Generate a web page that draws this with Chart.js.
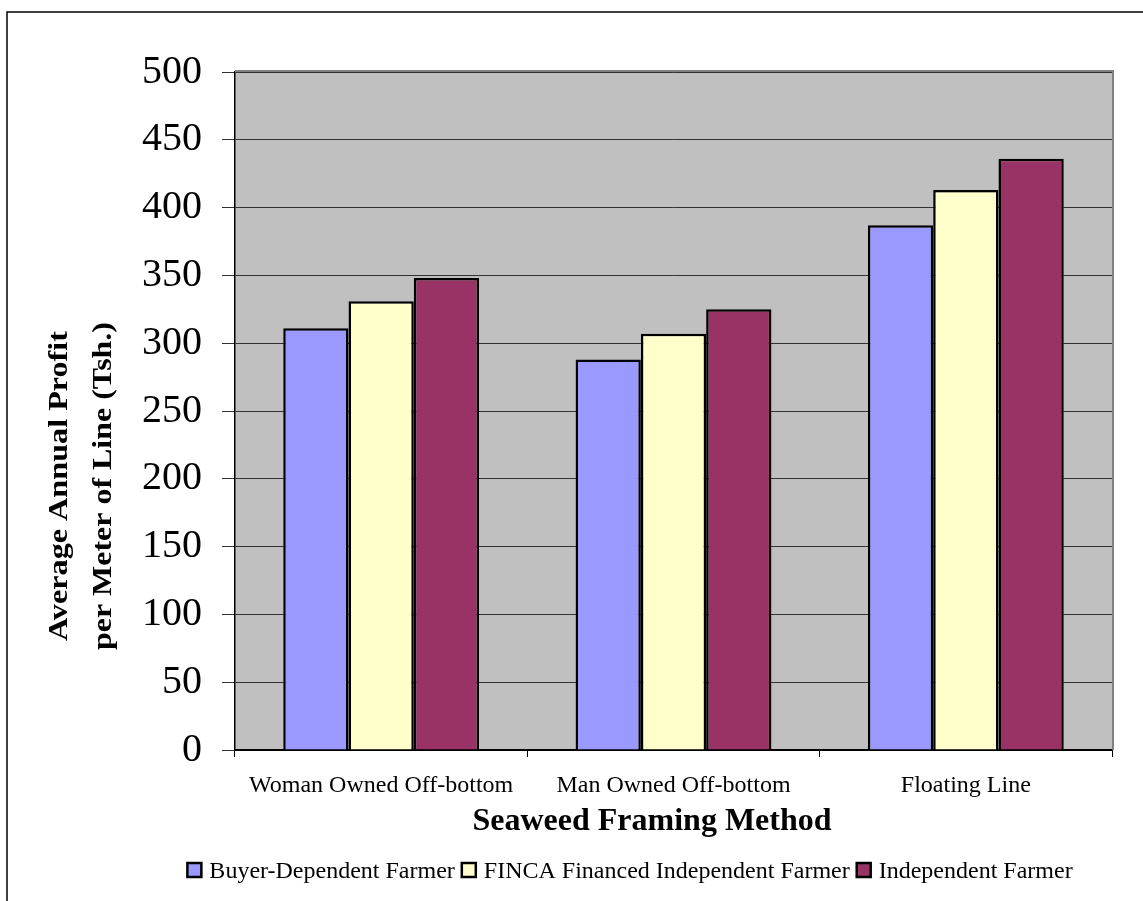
<!DOCTYPE html>
<html>
<head>
<meta charset="utf-8">
<script src="https://cdn.jsdelivr.net/npm/chart.js@4"></script>
<style>
html,body{margin:0;padding:0;background:#fff;}
#wrap{width:1143px;height:901px;position:relative;}
</style>
</head>
<body>
<div id="wrap"><canvas id="c" width="1143" height="901"></canvas></div>
<script>
const categories = ['Woman Owned Off-bottom', 'Man Owned Off-bottom', 'Floating Line'];
const seriesLabels = ['Buyer-Dependent Farmer', 'FINCA Financed Independent Farmer', 'Independent Farmer'];
const buyerDependent = [311, 288, 387];
const fincaFinanced = [331, 307, 413];
const independent = [348, 325, 436];
const seriesColors = ['#9999FF', '#FFFFCC', '#993366'];
const yTicks = [0, 50, 100, 150, 200, 250, 300, 350, 400, 450, 500];
const yTitleLines = ['Average Annual Profit', 'per Meter of Line (Tsh.)'];
const xTitle = 'Seaweed Framing Method';

const SERIF = "'Liberation Serif', 'Times New Roman', serif";

const decor = {
  id: 'decor',
  beforeDraw(chart) {
    const {ctx, chartArea: a} = chart;
    ctx.save();
    ctx.fillStyle = '#c0c0c0';
    ctx.fillRect(a.left, a.top, a.right - a.left, a.bottom - a.top);
    ctx.restore();
  },
  afterDraw(chart) {
    const {ctx, chartArea: a} = chart;
    ctx.save();
    // plot area gray border top & right
    ctx.strokeStyle = '#808080';
    ctx.lineWidth = 2;
    ctx.beginPath();
    ctx.moveTo(a.left, a.top - 1);
    ctx.lineTo(a.right + 1, a.top - 1);
    ctx.lineTo(a.right + 1, a.bottom);
    ctx.stroke();
    // outer border
    ctx.strokeStyle = '#000';
    ctx.lineWidth = 1.5;
    ctx.beginPath();
    ctx.moveTo(7, 905);
    ctx.lineTo(7, 12);
    ctx.lineTo(1150, 12);
    ctx.stroke();

    // y title (rotated, two lines)
    ctx.fillStyle = '#000';
    ctx.font = 'bold 27px ' + SERIF;
    ctx.textAlign = 'center';
    ctx.textBaseline = 'alphabetic';
    const yLinesX = [67, 111];
    const yLinesLen = [310, 328];
    yTitleLines.forEach((t, i) => {
      const w = ctx.measureText(t).width;
      ctx.save();
      ctx.translate(yLinesX[i], 486);
      ctx.rotate(-Math.PI / 2);
      ctx.scale(yLinesLen[i] / w, 1);
      ctx.fillText(t, 0, 0);
      ctx.restore();
    });

    // x title
    ctx.font = 'bold 32px ' + SERIF;
    ctx.textAlign = 'center';
    ctx.fillText(xTitle, 652, 830);

    // legend
    ctx.font = '24px ' + SERIF;
    ctx.textAlign = 'left';
    const box = 14, gapBT = 8, gapItem = 7;
    const widths = chart.data.datasets.map(d => ctx.measureText(d.label).width);
    let total = 0;
    widths.forEach((w, i) => { total += box + gapBT + w + (i < widths.length - 1 ? gapItem : 0); });
    let x = 630 - total / 2;
    chart.data.datasets.forEach((d, i) => {
      ctx.fillStyle = d.backgroundColor;
      ctx.fillRect(x, 863, box, box);
      ctx.strokeStyle = '#000';
      ctx.lineWidth = 2.5;
      ctx.strokeRect(x, 863, box, box);
      ctx.fillStyle = '#000';
      ctx.fillText(d.label, x + box + gapBT, 878);
      x += box + gapBT + widths[i] + gapItem;
    });
    ctx.restore();
  }
};

const seriesData = [buyerDependent, fincaFinanced, independent];

new Chart(document.getElementById('c'), {
  type: 'bar',
  data: {
    labels: categories,
    datasets: seriesData.map((vals, i) => ({
      label: seriesLabels[i],
      data: vals,
      backgroundColor: seriesColors[i],
      borderColor: '#000',
      borderWidth: 2.5,
      categoryPercentage: 0.67,
      barPercentage: 1.0
    }))
  },
  options: {
    responsive: false,
    animation: false,
    devicePixelRatio: 1,
    layout: { padding: { top: 72, right: 31, left: 0, bottom: 0 } },
    plugins: { legend: { display: false }, tooltip: { enabled: false }, title: { display: false } },
    scales: {
      y: {
        min: 0, max: 500,
        afterBuildTicks(scale) { scale.ticks = yTicks.map(v => ({ value: v })); },
        afterFit(scale) { scale.width = 235; },
        ticks: { font: { family: SERIF, size: 40 }, color: '#000', padding: 20 },
        grid: { color: '#333', lineWidth: 1, tickLength: 13, drawTicks: true },
        border: { display: true, color: '#000', width: 1.5 }
      },
      x: {
        afterFit(scale) { scale.height = 151; },
        ticks: { font: { family: SERIF, size: 24 }, color: '#000', padding: 14, maxRotation: 0 },
        grid: { offset: true, drawOnChartArea: false, drawTicks: true, tickLength: 7, color: '#000', lineWidth: 1 },
        border: { display: true, color: '#000', width: 2 }
      }
    }
  },
  plugins: [decor]
});
</script>
</body>
</html>
